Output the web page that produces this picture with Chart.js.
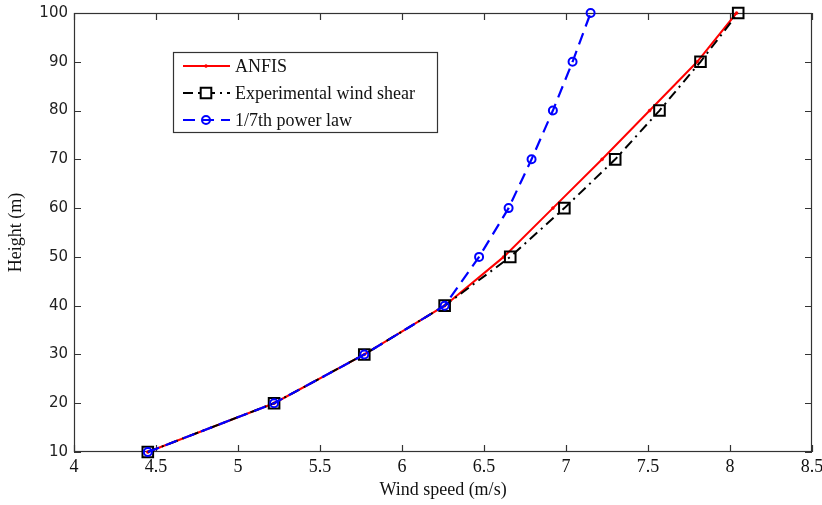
<!DOCTYPE html>
<html>
<head>
<meta charset="utf-8">
<script src="https://cdn.jsdelivr.net/npm/chart.js@4"></script>
<style>
  html, body { margin: 0; padding: 0; background: #fff; }
  #wrap { width: 822px; height: 505px; position: relative; }
</style>
</head>
<body>
<div id="wrap"><canvas id="c" width="822" height="505"></canvas></div>
<script>
// ---- data ----
const heights = [10, 20, 30, 40, 50, 60, 70, 80, 90, 100];
const anfis = [4.45, 5.22, 5.77, 6.26, 6.62, 6.92, 7.22, 7.51, 7.80, 8.04];
const experimental = [4.45, 5.22, 5.77, 6.26, 6.66, 6.99, 7.30, 7.57, 7.82, 8.05];
const powerLaw = [4.45, 5.22, 5.77, 6.26, 6.47, 6.65, 6.79, 6.92, 7.04, 7.15];
const seriesNames = ['ANFIS', 'Experimental wind shear', '1/7th power law'];
const xTitle = 'Wind speed (m/s)';
const yTitle = 'Height (m)';

const toPoints = (xs) => xs.map((v, i) => ({ x: v, y: heights[i] }));

const axisColor = '#333';

const framePlugin = {
  id: 'frame',
  beforeDatasetsDraw(chart) {
    const { ctx, chartArea: a, scales } = chart;
    ctx.save();
    ctx.strokeStyle = axisColor;
    ctx.lineWidth = 1.2;
    ctx.strokeRect(a.left + 0.5, a.top + 0.5, a.right - a.left - 1, a.bottom - a.top - 1);
    const tl = 7;
    ctx.beginPath();
    scales.x.ticks.forEach(t => {
      const px = Math.round(scales.x.getPixelForValue(t.value)) + 0.5;
      ctx.moveTo(px, a.bottom); ctx.lineTo(px, a.bottom - tl);
      ctx.moveTo(px, a.top); ctx.lineTo(px, a.top + tl);
    });
    scales.y.ticks.forEach(t => {
      const py = Math.round(scales.y.getPixelForValue(t.value)) + 0.5;
      ctx.moveTo(a.left, py); ctx.lineTo(a.left + tl, py);
      ctx.moveTo(a.right, py); ctx.lineTo(a.right - tl, py);
    });
    ctx.stroke();
    ctx.restore();
  }
};

const legendPlugin = {
  id: 'customLegend',
  afterDraw(chart) {
    const ctx = chart.ctx;
    const bx = 173, by = 52, bw = 264, bh = 80;
    ctx.save();
    ctx.fillStyle = '#fff';
    ctx.fillRect(bx, by, bw, bh);
    ctx.strokeStyle = '#333';
    ctx.lineWidth = 1.2;
    ctx.strokeRect(bx + 0.5, by + 0.5, bw, bh);
    const rows = [66, 93, 120];
    const x0 = 183, x1 = 230, xm = 206;
    chart.data.datasets.forEach((ds, i) => {
      const y = rows[i];
      ctx.strokeStyle = ds.borderColor;
      ctx.lineWidth = ds.borderWidth;
      ctx.setLineDash(ds.borderDash || []);
      ctx.beginPath(); ctx.moveTo(x0, y); ctx.lineTo(x1, y); ctx.stroke();
      ctx.setLineDash([]);
      ctx.strokeStyle = ds.pointBorderColor;
      ctx.fillStyle = ds.pointStyle === 'rect' ? '#fff' : ds.pointBackgroundColor;
      ctx.lineWidth = ds.pointBorderWidth;
      ctx.beginPath();
      if (ds.pointStyle === 'rect') {
        const s = ds.pointRadius * Math.SQRT1_2;
        ctx.rect(xm - s, y - s, 2 * s, 2 * s);
      } else {
        ctx.arc(xm, y, ds.pointRadius, 0, Math.PI * 2);
      }
      ctx.fill(); ctx.stroke();
      ctx.fillStyle = '#111';
      ctx.font = '18px "Liberation Serif", "Times New Roman", serif';
      ctx.textBaseline = 'middle';
      ctx.textAlign = 'left';
      ctx.fillText(ds.label, 235, y + 1);
    });
    ctx.restore();
  }
};

new Chart(document.getElementById('c'), {
  type: 'scatter',
  data: {
    datasets: [
      {
        label: seriesNames[0],
        data: toPoints(anfis),
        showLine: true,
        borderColor: '#ff0000',
        backgroundColor: '#ff0000',
        borderWidth: 2,
        pointStyle: 'circle',
        pointRadius: 1.5,
        pointBorderWidth: 0.5,
        pointBorderColor: '#ff0000',
        pointBackgroundColor: '#ff0000',
        order: 2,
        clip: false
      },
      {
        label: seriesNames[1],
        data: toPoints(experimental),
        showLine: true,
        borderColor: '#000000',
        backgroundColor: '#000000',
        borderWidth: 2,
        borderDash: [10, 5, 2, 5],
        pointStyle: 'rect',
        pointRadius: 7.5,
        pointBorderWidth: 2,
        pointBorderColor: '#000000',
        pointBackgroundColor: 'rgba(255,255,255,0)',
        order: 1,
        clip: false
      },
      {
        label: seriesNames[2],
        data: toPoints(powerLaw),
        showLine: true,
        borderColor: '#0000ff',
        backgroundColor: '#0000ff',
        borderWidth: 2.2,
        borderDash: [12, 7],
        pointStyle: 'circle',
        pointRadius: 4,
        pointBorderWidth: 2,
        pointBorderColor: '#0000ff',
        pointBackgroundColor: 'rgba(255,255,255,0)',
        order: 0,
        clip: false
      }
    ]
  },
  options: {
    responsive: false,
    animation: false,
    devicePixelRatio: 1,
    layout: { padding: { top: 13, right: 10, left: 0, bottom: 0 } },
    plugins: { legend: { display: false }, tooltip: { enabled: false } },
    scales: {
      x: {
        type: 'linear',
        min: 4, max: 8.5,
        afterFit: (s) => { s.height = 53; s.paddingLeft = 0; s.paddingRight = 0; },
        grid: { display: false, drawTicks: false },
        border: { display: false },
        ticks: {
          stepSize: 0.5,
          padding: 4,
          color: '#111',
          font: { family: '"Liberation Serif", "Times New Roman", serif', size: 18 },
          maxRotation: 0,
          callback: (v) => String(v)
        },
        title: {
          display: true,
          text: xTitle,
          color: '#111',
          font: { family: '"Liberation Serif", "Times New Roman", serif', size: 18 },
          padding: { top: 0, bottom: 4 }
        }
      },
      y: {
        type: 'linear',
        min: 10, max: 100,
        afterFit: (s) => { s.width = 74; s.paddingTop = 0; s.paddingBottom = 0; },
        grid: { display: false, drawTicks: false },
        border: { display: false },
        ticks: {
          stepSize: 10,
          padding: 6,
          color: '#222',
          font: { family: '"DejaVu Sans", Verdana, sans-serif', size: 15 }
        },
        title: {
          display: true,
          text: yTitle,
          color: '#111',
          font: { family: '"Liberation Serif", "Times New Roman", serif', size: 18 },
          padding: { top: 5, bottom: 0 }
        }
      }
    }
  },
  plugins: [framePlugin, legendPlugin]
});
</script>
</body>
</html>
